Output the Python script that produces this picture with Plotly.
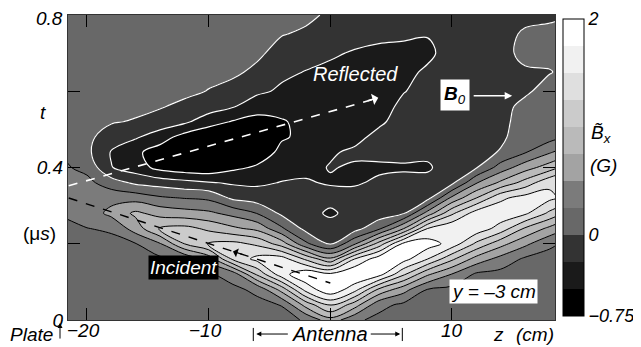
import numpy as np
import plotly.graph_objects as go

# ---------------- data ----------------
z_cm = [-22, -20, -18, -16, -14, -12, -10, -8, -6, -4, -2, 0, 2, 4, 6, 8, 10, 12, 14, 16, 18, 20]
t_us = [0, 0.04, 0.08, 0.12, 0.16, 0.20, 0.24, 0.28, 0.32, 0.36, 0.40, 0.44, 0.48,
        0.52, 0.56, 0.60, 0.65, 0.70, 0.75, 0.80]

# Bx (G) versus t, one list per z column (same order as z_cm)
bx_z_m22 = [0.12, 0.12, 0.13, 0.14, 0.16, 0.19, 0.22, 0.26, 0.32, 0.33, 0.29, 0.24, 0.2, 0.16, 0.14, 0.13, 0.12, 0.12, 0.12, 0.12]
bx_z_m20 = [0.12, 0.12, 0.13, 0.14, 0.16, 0.2, 0.245, 0.35, 0.41, 0.32, 0.18, 0.06, 0.06, 0.09, 0.11, 0.12, 0.12, 0.12, 0.12, 0.12]
bx_z_m18 = [0.12, 0.13, 0.14, 0.16, 0.18, 0.19, 0.28, 0.57, 0.42, 0.12, -0.24, -0.27, -0.12, 0.02, 0.08, 0.1, 0.12, 0.12, 0.12, 0.12]
bx_z_m16 = [0.12, 0.13, 0.14, 0.16, 0.19, 0.24, 0.62, 0.8, 0.4, -0.05, -0.38, -0.45, -0.22, -0.02, 0.06, 0.1, 0.12, 0.12, 0.12, 0.12]
bx_z_m14 = [0.12, 0.13, 0.15, 0.17, 0.2, 0.48, 1.02, 0.66, 0.29, -0.11, -0.58, -0.62, -0.38, -0.1, 0.02, 0.08, 0.11, 0.12, 0.12, 0.12]
bx_z_m12 = [0.12, 0.13, 0.15, 0.18, 0.27, 1.0, 1.08, 0.6, 0.24, -0.17, -0.66, -0.72, -0.6, -0.2, -0.06, 0.06, 0.1, 0.12, 0.12, 0.12]
bx_z_m10 = [0.12, 0.14, 0.17, 0.22, 0.6, 1.26, 0.95, 0.55, 0.2, -0.23, -0.68, -0.78, -0.7, -0.4, -0.12, -0.01, 0.07, 0.11, 0.12, 0.12]
bx_z_m8 = [0.13, 0.15, 0.2, 0.35, 1.3, 1.32, 0.8, 0.42, -0.05, -0.28, -0.55, -0.72, -0.74, -0.52, -0.23, -0.08, 0.04, 0.1, 0.12, 0.12]
bx_z_m6 = [0.14, 0.19, 0.3, 1.05, 1.58, 1.2, 0.68, 0.24, -0.125, -0.29, -0.47, -0.62, -0.68, -0.58, -0.4, -0.2, -0.05, 0.04, 0.1, 0.12]
bx_z_m4 = [0.16, 0.26, 0.85, 1.65, 1.62, 0.88, 0.29, -0.05, -0.14, -0.24, -0.35, -0.45, -0.52, -0.52, -0.42, -0.29, -0.2, -0.08, 0.01, 0.05]
bx_z_m2 = [0.28, 0.85, 1.6, 1.95, 1.2, 0.3, -0.08, -0.14, -0.18, -0.23, -0.3, -0.38, -0.46, -0.44, -0.38, -0.32, -0.26, -0.16, -0.03, 0.04]
bx_z_0 = [0.65, 1.3, 1.95, 1.8, 0.8, -0.02, -0.12, -0.3, -0.16, -0.27, -0.24, -0.27, -0.33, -0.35, -0.36, -0.35, -0.3, -0.22, -0.1, -0.03]
bx_z_2 = [0.3, 0.87, 1.6, 2.0, 1.5, 0.46, -0.1, -0.14, -0.18, -0.27, -0.27, -0.22, -0.3, -0.34, -0.36, -0.36, -0.33, -0.27, -0.17, -0.1]
bx_z_4 = [0.18, 0.33, 0.95, 1.85, 1.9, 1.1, 0.2, -0.15, -0.16, -0.22, -0.28, -0.2, -0.2, -0.28, -0.34, -0.36, -0.34, -0.3, -0.2, -0.12]
bx_z_6 = [0.15, 0.2, 0.6, 1.3, 1.85, 1.8, 0.73, -0.03, -0.12, -0.2, -0.27, -0.2, -0.18, -0.18, -0.2, -0.26, -0.3, -0.3, -0.22, -0.14]
bx_z_8 = [0.12, 0.15, 0.24, 0.79, 1.5, 1.87, 1.5, 0.6, -0.08, -0.18, -0.28, -0.2, -0.16, -0.15, -0.15, -0.18, -0.22, -0.29, -0.24, -0.15]
bx_z_10 = [0.11, 0.13, 0.18, 0.49, 1.05, 1.65, 1.72, 1.2, 0.56, -0.06, -0.13, -0.14, -0.14, -0.14, -0.14, -0.15, -0.16, -0.17, -0.16, -0.13]
bx_z_12 = [0.1, 0.11, 0.13, 0.21, 0.65, 1.2, 1.66, 1.62, 1.0, 0.48, -0.02, -0.1, -0.11, -0.11, -0.11, -0.12, -0.13, -0.14, -0.14, -0.12]
bx_z_14 = [0.1, 0.1, 0.12, 0.17, 0.41, 0.84, 1.4, 1.66, 1.45, 0.8, 0.36, 0.02, -0.05, -0.06, -0.06, -0.07, -0.07, -0.05, -0.05, -0.08]
bx_z_16 = [0.1, 0.1, 0.11, 0.13, 0.21, 0.56, 0.97, 1.55, 1.6, 1.1, 0.64, 0.23, 0.14, 0.09, 0.05, -0.03, -0.02, 0.04, 0.02, -0.04]
bx_z_18 = [0.1, 0.1, 0.1, 0.12, 0.16, 0.3, 0.69, 1.2, 1.56, 1.45, 0.87, 0.47, 0.15, 0.13, 0.1, 0.07, -0.01, 0.05, 0.04, -0.03]
bx_z_20 = [0.1, 0.1, 0.1, 0.11, 0.13, 0.18, 0.45, 0.85, 1.35, 1.52, 1.2, 0.7, 0.32, 0.16, 0.12, 0.1, 0.06, 0.07, 0.06, 0.0]

bx_columns = [bx_z_m22, bx_z_m20, bx_z_m18, bx_z_m16, bx_z_m14, bx_z_m12, bx_z_m10,
              bx_z_m8, bx_z_m6, bx_z_m4, bx_z_m2, bx_z_0, bx_z_2, bx_z_4, bx_z_6,
              bx_z_8, bx_z_10, bx_z_12, bx_z_14, bx_z_16, bx_z_18, bx_z_20]

level_start, level_end, level_step = -0.5, 1.75, 0.25
cbar_min, cbar_max = -0.75, 2.0
cbar_ticks = [-0.75, 0, 2]
cbar_ticktext = ["\u22120.75", "0", "2"]
x_ticks = [-20, -10, 0, 10]
x_ticktext = ["\u221220", "\u221210", "", "10"]
y_ticks = [0, 0.2, 0.4, 0.6, 0.8]
y_ticktext = ["0", "", "0.4", "", ""]   # "0.8" is drawn as a label just below the top edge

# ---------------- styling ----------------
band_colors = ["#000000", "#1a1a1a", "#333333", "#686868", "#7b7b7b", "#a3a3a3",
               "#bababa", "#cbcbcb", "#dfdfdf", "#f1f1f1", "#ffffff"]
nb = len(band_colors)

cs_contour = []
for i, c in enumerate(band_colors):
    lo = 0.0 if i == 0 else (i - 0.5) / (nb - 1)
    hi = 1.0 if i == nb - 1 else (i + 0.5) / (nb - 1)
    cs_contour += [[lo, c], [hi, c]]
cs_bar = []
for i, c in enumerate(band_colors):
    cs_bar += [[i / nb, c], [(i + 1) / nb, c]]

FONT = "Liberation Sans, Arial, sans-serif"
fs = 19
bx = np.array(bx_columns).T  # rows = t, columns = z

CB_X, CB_THICK, CB_LEN, CB_Y = 1.0164, 21, 0.974, 0.5

fig = go.Figure()
fig.add_trace(go.Contour(
    x=z_cm, y=t_us, z=bx,
    contours=dict(start=level_start, end=level_end, size=level_step, coloring="fill"),
    colorscale=cs_contour, showscale=False,
    line=dict(color="black", width=1, smoothing=1),
    hoverinfo="skip",
))
fig.add_trace(go.Contour(
    x=z_cm, y=t_us, z=bx,
    contours=dict(start=level_start, end=0, size=level_step, coloring="none"),
    line=dict(color="white", width=1.2, smoothing=1),
    showscale=False, hoverinfo="skip",
))
fig.add_trace(go.Scatter(
    x=[z_cm[0]], y=[t_us[0]], mode="markers", hoverinfo="skip",
    marker=dict(size=1, opacity=0, color=[0], cmin=cbar_min, cmax=cbar_max,
                colorscale=cs_bar, showscale=True,
                colorbar=dict(
                    x=CB_X, xanchor="left", xpad=0, thickness=CB_THICK,
                    len=CB_LEN, y=CB_Y, yanchor="middle", ypad=0,
                    outlinewidth=1, outlinecolor="black",
                    tickvals=cbar_ticks, ticktext=cbar_ticktext, ticks="",
                    tickfont=dict(family=FONT, size=18, color="black", style="italic"),
                )),
))

ann = []
def txt(x, y, s, xref="x", yref="y", color="black", bg=None, size=fs, pad=1, italic=True,
        xanchor="center"):
    d = dict(x=x, y=y, xref=xref, yref=yref, text=s, showarrow=False,
             xanchor=xanchor, yanchor="middle",
             font=dict(family=FONT, size=size, color=color, style="italic" if italic else "normal"),
             borderpad=pad)
    if bg:
        d["bgcolor"] = bg
    ann.append(d)

def arrow(x, y, ax, ay, color="black", xref="x", yref="y", head=2, width=1.2, size=1.0):
    ann.append(dict(x=x, y=y, xref=xref, yref=yref, ax=ax, ay=ay, axref="pixel", ayref="pixel",
                    text="", showarrow=True, arrowhead=head, arrowcolor=color,
                    arrowwidth=width, arrowsize=size))

# x tick labels, placed just under the axis
for xv, xt in zip(x_ticks, x_ticktext):
    if xt:
        txt(xv - (0.25 if xt.startswith("\u2212") else 0), -0.036, xt, yref="paper")

txt(2.05, 0.646, "Reflected", color="white", size=20)
txt(10.23, 0.589, "<b><i>B</i></b><sub><i>0</i></sub>", bg="white", pad=3, italic=False)
arrow(14.95, 0.588, -40, 0, color="white", width=1.5)
txt(-12.08, 0.139, "Incident", color="white", bg="black", pad=1)
txt(13.39, 0.0735, "y = \u20133 cm", bg="white", pad=1)
arrow(3.94, 0.583, -12, 3.4, color="white", head=1, width=1.5, size=1.3)
arrow(-8.0, 0.18, 12, 3.9, color="black", head=1, width=1.2, size=1.3)
txt(0, -0.046, "Antenna", yref="paper", size=20)
arrow(-6.08, -0.046, 33, 0, yref="paper", head=2, width=1)
arrow(5.75, -0.046, -31, 0, yref="paper", head=2, width=1)
txt(-0.074, -0.046, "Plate", xref="paper", yref="paper")
arrow(-0.0164, -0.01, 0, 17, xref="paper", yref="paper", head=2, width=1)
txt(-0.006, 0.987, "0.8", xref="paper", yref="paper", xanchor="right")
txt(-0.051, 0.679, "t", xref="paper", yref="paper")
txt(-0.0575, 0.282, "(\u03bc<i>s</i>)", xref="paper", yref="paper", italic=False)
txt(0.885, -0.046, "z", xref="paper", yref="paper")
txt(0.959, -0.046, "(cm)", xref="paper", yref="paper")
txt(1.0965, 0.61, "B\u0303<sub>x</sub>", xref="paper", yref="paper")
txt(1.1006, 0.505, "(G)", xref="paper", yref="paper")

shapes = [
    dict(type="line", xref="x", yref="y", x0=-21.5, y0=0.352, x1=3.9, y1=0.582,
         line=dict(color="white", width=1.6, dash="dash")),
    dict(type="line", xref="x", yref="y", x0=-21.5, y0=0.32, x1=0, y1=0.097,
         line=dict(color="black", width=1.4, dash="dash")),
    dict(type="line", xref="x", yref="paper", x0=-6.33, x1=-6.33, y0=-0.026, y1=-0.069,
         line=dict(color="black", width=1)),
    dict(type="line", xref="x", yref="paper", x0=5.92, x1=5.92, y0=-0.026, y1=-0.069,
         line=dict(color="black", width=1)),
]
cb_y0 = CB_Y - CB_LEN / 2
cb_x1 = CB_X + CB_THICK / 487.0
lvl = level_start
while lvl <= level_end + 1e-9:
    yy = cb_y0 + (lvl - cbar_min) / (cbar_max - cbar_min) * CB_LEN
    shapes.append(dict(type="line", xref="paper", yref="paper", x0=CB_X, x1=cb_x1, y0=yy, y1=yy,
                       line=dict(color="#8a8a8a" if lvl <= 0 else "#333333", width=1)))
    lvl += level_step

axis_common = dict(showline=True, linecolor="#333333", linewidth=1, mirror="ticks",
                   ticks="inside", ticklen=12, tickwidth=1, tickcolor="black",
                   showgrid=False, zeroline=False,
                   tickfont=dict(family=FONT, size=fs, color="black", style="italic"))

# the page body adds an 8 px offset; the figure is sized so the plot area lands at
# x 68..555, y 15..320 of the 641x347 window
fig.update_layout(
    width=633, height=339,
    margin=dict(l=60, r=86, t=7, b=27, autoexpand=False),
    paper_bgcolor="white", plot_bgcolor="white",
    showlegend=False,
    xaxis=dict(range=[-21.56, 18.47], tickvals=x_ticks, ticktext=["", "", "", ""], **axis_common),
    yaxis=dict(range=[0, 0.8], tickvals=y_ticks, ticktext=y_ticktext, **axis_common),
    annotations=ann, shapes=shapes,
    font=dict(family=FONT, size=fs, color="black"),
)

fig.write_html("out.html")
